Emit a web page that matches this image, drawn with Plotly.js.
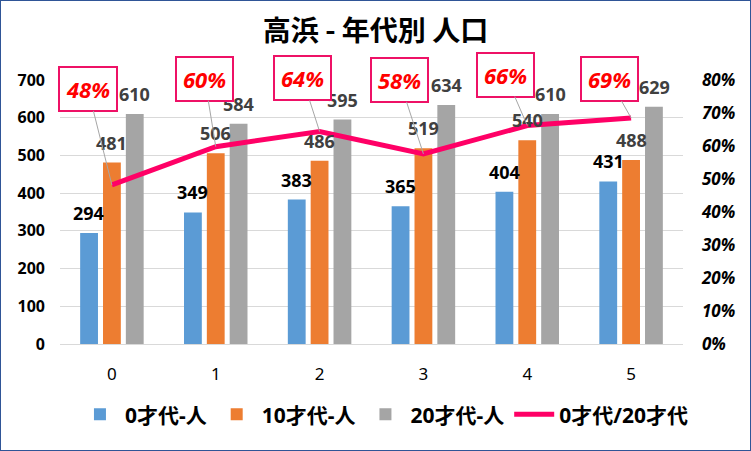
<!DOCTYPE html>
<html>
<head>
<meta charset="utf-8">
<script src="https://cdn.plot.ly/plotly-3.0.1.min.js"></script>
<style>
  body { margin: 0; background: #fff; }
  #chart { width: 749px; height: 449px; border: 1px solid #2f5597; }
</style>
</head>
<body>
<div id="chart"></div>
<script>
// 高浜 年代別人口
var categories = [0, 1, 2, 3, 4, 5];
var age0 = [294, 349, 383, 365, 404, 431];
var age10 = [481, 506, 486, 519, 540, 488];
var age20 = [610, 584, 595, 634, 610, 629];
var ratio = [0.482, 0.598, 0.644, 0.576, 0.662, 0.685];

var seriesNames = ['0才代-人', '10才代-人', '20才代-人', '0才代/20才代'];
var colors = ['#5b9bd5', '#ed7d31', '#a5a5a5', '#ff0066'];

var FONT = 'Noto Sans, Noto Sans CJK JP, sans-serif';

var traces = [
  { type: 'bar', x: categories, y: age0, name: seriesNames[0], marker: { color: colors[0] } },
  { type: 'bar', x: categories, y: age10, name: seriesNames[1], marker: { color: colors[1] } },
  { type: 'bar', x: categories, y: age20, name: seriesNames[2], marker: { color: colors[2] } },
  { type: 'scatter', mode: 'lines', x: categories, y: ratio, name: seriesNames[3], yaxis: 'y2',
    line: { color: colors[3], width: 5 } }
];

// value labels above bars
var annotations = [];
var barSets = [age0, age10, age20];
var shifts = [-23, 0, 23];
var labelColors = ['#000000', '#404040', '#404040'];
barSets.forEach(function(vals, s) {
  vals.forEach(function(v, i) {
    annotations.push({
      x: categories[i], y: v, xref: 'x', yref: 'y',
      text: String(v), showarrow: false,
      xshift: shifts[s], yshift: 20,
      font: { family: FONT, size: 18, color: labelColors[s], weight: 'bold' }
    });
  });
});

// percentage callouts
var offX = [-24, -11, -17, -24, -22, -22];
var offY = [-96, -68, -53, -74, -51, -39];
ratio.forEach(function(r, i) {
  annotations.push({
    x: categories[i], y: r, xref: 'x', yref: 'y2',
    text: Math.round(r * 100) + '%',
    showarrow: true, arrowhead: 0, arrowwidth: 1, arrowcolor: '#a6a6a6',
    ax: offX[i], ay: offY[i],
    bgcolor: '#ffffff', bordercolor: '#ee1166', borderwidth: 2, borderpad: 6,
    font: { family: FONT, size: 22, color: '#ff0000', weight: 'bold', style: 'italic' }
  });
});

var layout = {
  width: 749, height: 449,
  margin: { l: 59, r: 67, t: 79, b: 106 },
  paper_bgcolor: '#ffffff', plot_bgcolor: '#ffffff',
  title: { text: '高浜 - 年代別 人口', x: 0.5, xanchor: 'center', y: 0.955, yanchor: 'top',
    font: { family: 'Noto Sans CJK JP, sans-serif', size: 28, color: '#000', weight: 'bold' } },
  barmode: 'group', bargap: 0.34, bargroupgap: 0.22,
  showlegend: true,
  legend: { orientation: 'h', x: 0.52, xanchor: 'center', y: -0.19, yanchor: 'top',
    font: { family: FONT, size: 21, color: '#000', weight: 'bold' }, itemwidth: 40 },
  xaxis: { type: 'linear', tickmode: 'array', tickvals: categories, range: [-0.5, 5.5],
    showgrid: false, zeroline: false, showline: false, ticks: '', ticklabelstandoff: 18,
    tickfont: { family: FONT, size: 17, color: '#000' } },
  yaxis: { range: [0, 700], dtick: 100, showgrid: true, gridcolor: '#d9d9d9', gridwidth: 1,
    zeroline: true, zerolinecolor: '#d9d9d9', ticks: '', ticklabelstandoff: 14,
    tickfont: { family: FONT, size: 16, color: '#000', weight: 'bold' } },
  yaxis2: { overlaying: 'y', side: 'right', range: [0, 0.8], dtick: 0.1, tickformat: '.0%',
    showgrid: false, zeroline: false, ticks: '', ticklabelstandoff: 18,
    tickfont: { family: FONT, size: 17, color: '#000', weight: 'bold', style: 'italic' } },
  annotations: annotations
};

Plotly.newPlot('chart', traces, layout, { displayModeBar: false, staticPlot: true });
</script>
</body>
</html>
